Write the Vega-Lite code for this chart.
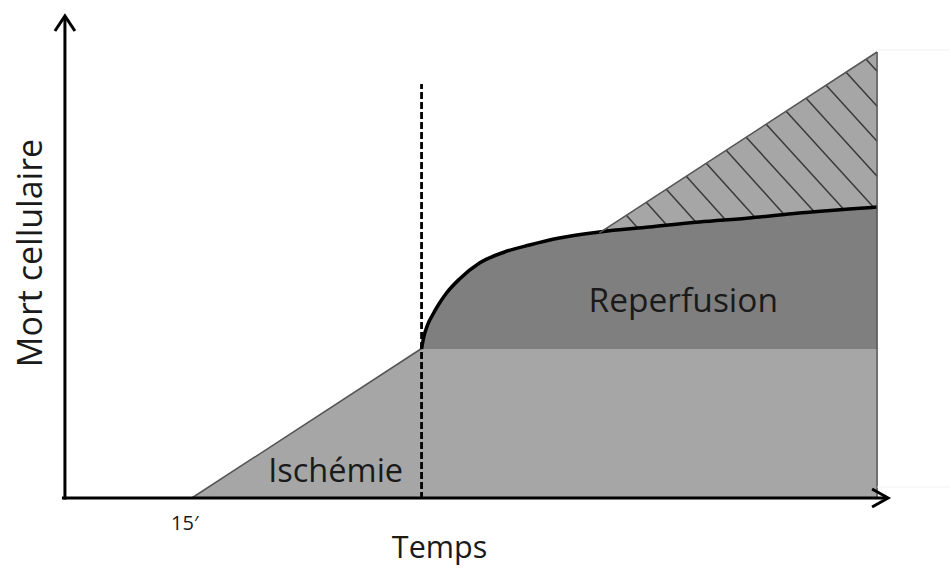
{
  "$schema": "https://vega.github.io/schema/vega-lite/v6.json",
  "width": 951,
  "height": 568,
  "autosize": {"type": "fit", "contains": "padding"},
  "padding": 0,
  "background": "white",
  "config": {"view": {"stroke": null}},
  "encoding": {
    "x": {"field": "x", "type": "quantitative", "scale": {"domain": [-65, 886], "nice": false, "zero": false}, "axis": null},
    "y": {"field": "y", "type": "quantitative", "scale": {"domain": [-70, 498], "nice": false, "zero": false}, "axis": null}
  },
  "layer": [
    {
      "data": {"values": [
        {"x": 127, "y": 0, "y2": 0},
        {"x": 813, "y": 446, "y2": 0}
      ]},
      "mark": {"type": "area", "color": "#a6a6a6"},
      "encoding": {"y2": {"field": "y2"}}
    },
    {
      "data": {"values": [
        {"x": 542, "y": 269.75, "x2": 548, "y2": 263},
        {"x": 562, "y": 282.75, "x2": 577, "y2": 266},
        {"x": 582, "y": 295.75, "x2": 606, "y2": 269},
        {"x": 602, "y": 308.75, "x2": 636, "y2": 271},
        {"x": 622, "y": 321.75, "x2": 665, "y2": 274},
        {"x": 642, "y": 334.75, "x2": 695, "y2": 276},
        {"x": 662, "y": 347.75, "x2": 724, "y2": 279},
        {"x": 682, "y": 360.75, "x2": 754, "y2": 282},
        {"x": 702, "y": 373.75, "x2": 783, "y2": 285},
        {"x": 722, "y": 386.75, "x2": 812, "y2": 288},
        {"x": 742, "y": 399.75, "x2": 813, "y2": 321.65},
        {"x": 762, "y": 412.75, "x2": 813, "y2": 356.65},
        {"x": 782, "y": 425.75, "x2": 813, "y2": 391.65},
        {"x": 802, "y": 438.75, "x2": 813, "y2": 426.65}
      ]},
      "mark": {"type": "rule", "color": "#3a3a3a", "strokeWidth": 1.5},
      "encoding": {"x2": {"field": "x2"}, "y2": {"field": "y2"}}
    },
    {
      "data": {"values": [
        {"x": 357, "y": 149, "y2": 149},
        {"x": 359, "y": 160, "y2": 149},
        {"x": 363, "y": 173, "y2": 149},
        {"x": 368, "y": 183, "y2": 149},
        {"x": 375, "y": 195, "y2": 149},
        {"x": 382, "y": 205, "y2": 149},
        {"x": 395, "y": 219, "y2": 149},
        {"x": 415, "y": 235, "y2": 149},
        {"x": 440, "y": 246, "y2": 149},
        {"x": 465, "y": 253, "y2": 149},
        {"x": 495, "y": 260, "y2": 149},
        {"x": 535, "y": 266, "y2": 149},
        {"x": 585, "y": 271, "y2": 149},
        {"x": 635, "y": 276, "y2": 149},
        {"x": 685, "y": 280, "y2": 149},
        {"x": 735, "y": 285, "y2": 149},
        {"x": 785, "y": 289, "y2": 149},
        {"x": 813, "y": 291, "y2": 149}
      ]},
      "layer": [
        {"mark": {"type": "area", "color": "#7f7f7f", "interpolate": "monotone"}, "encoding": {"y2": {"field": "y2"}}},
        {"mark": {"type": "line", "color": "#000000", "strokeWidth": 3.5, "interpolate": "monotone"}}
      ]
    },
    {
      "data": {"values": [
        {"x": 127, "y": 0, "x2": 357, "y2": 149.5},
        {"x": 535, "y": 265.2, "x2": 813, "y2": 446},
        {"x": 813, "y": 0, "x2": 813, "y2": 446}
      ]},
      "mark": {"type": "rule", "color": "#555555", "strokeWidth": 1.5},
      "encoding": {"x2": {"field": "x2"}, "y2": {"field": "y2"}}
    },
    {
      "data": {"values": [
        {"x": 813, "y": 448, "x2": 886, "y2": 448},
        {"x": 813, "y": 11, "x2": 886, "y2": 11}
      ]},
      "mark": {"type": "rule", "color": "#f2f2f2", "strokeWidth": 1},
      "encoding": {"x2": {"field": "x2"}, "y2": {"field": "y2"}}
    },
    {
      "data": {"values": [{"x": 357, "y": -1, "x2": 357, "y2": 414}]},
      "mark": {"type": "rule", "color": "#000000", "strokeWidth": 2.8, "strokeDash": [7, 3]},
      "encoding": {"x2": {"field": "x2"}, "y2": {"field": "y2"}}
    },
    {
      "data": {"values": [
        {"x": 0, "y": -1.5, "x2": 0, "y2": 481},
        {"x": -3, "y": 0, "x2": 823, "y2": 0}
      ]},
      "mark": {"type": "rule", "color": "#000000", "strokeWidth": 3},
      "encoding": {"x2": {"field": "x2"}, "y2": {"field": "y2"}}
    },
    {
      "data": {"values": [
        {"g": "y", "o": 1, "x": -10, "y": 467},
        {"g": "y", "o": 2, "x": 0, "y": 482},
        {"g": "y", "o": 3, "x": 10, "y": 467},
        {"g": "x", "o": 1, "x": 808, "y": 9},
        {"g": "x", "o": 2, "x": 824, "y": 0},
        {"g": "x", "o": 3, "x": 808, "y": -9}
      ]},
      "mark": {"type": "line", "color": "#000000", "strokeWidth": 3, "strokeJoin": "miter", "strokeCap": "butt"},
      "encoding": {"detail": {"field": "g"}, "order": {"field": "o", "type": "quantitative"}}
    },
    {
      "data": {"values": [
        {"x": 271, "y": 16, "label": "Ischémie", "size": 32.5},
        {"x": 619, "y": 186, "label": "Reperfusion", "size": 33.5},
        {"x": 375, "y": -60, "label": "Temps", "size": 30.5}
      ]},
      "mark": {"type": "text", "font": "Open Sans", "color": "#1a1a1a", "align": "center", "baseline": "alphabetic"},
      "encoding": {"text": {"field": "label"}, "size": {"field": "size", "type": "quantitative", "scale": null}}
    },
    {
      "data": {"values": [{"x": 120, "y": -32, "label": "15′"}]},
      "mark": {"type": "text", "font": "Open Sans", "fontSize": 20, "color": "#1a1a1a", "align": "center", "baseline": "alphabetic"},
      "encoding": {"text": {"field": "label"}}
    },
    {
      "data": {"values": [{"x": -23, "y": 245, "label": "Mort cellulaire"}]},
      "mark": {"type": "text", "font": "Open Sans", "fontSize": 34, "angle": 270, "color": "#1a1a1a", "align": "center", "baseline": "alphabetic"},
      "encoding": {"text": {"field": "label"}}
    }
  ]
}
